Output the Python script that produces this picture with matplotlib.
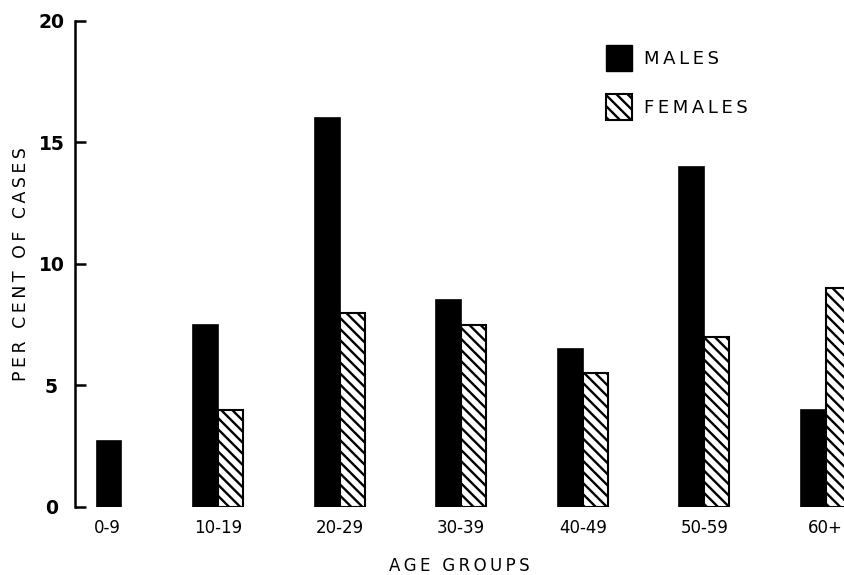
import numpy as np
import matplotlib
matplotlib.use("Agg")
import matplotlib.pyplot as plt
from matplotlib.patches import Patch

categories = ["0-9", "10-19", "20-29", "30-39", "40-49", "50-59", "60+"]
males = [2.7, 7.5, 16.0, 8.5, 6.5, 14.0, 4.0]
females = [0.0, 4.0, 8.0, 7.5, 5.5, 7.0, 9.0]
y_ticks = [0, 5, 10, 15, 20]
series_names = ["MALES", "FEMALES"]
x_title = "AGE GROUPS"
y_title = "PER CENT OF CASES"

plt.rcParams["font.family"] = ["DejaVu Sans"]
plt.rcParams["hatch.linewidth"] = 1.7


def spaced(s):
    return "\u2009".join(s)


fig = plt.figure(figsize=(8.44, 5.75), dpi=100)
ax = fig.add_axes([0.0889, 0.1183, 0.9111, 0.8452])

w = 0.205
hatch = "\\\\\\"
x = np.arange(len(categories), dtype=float)
tick_pos = []
for i in range(len(categories)):
    if females[i] > 0:
        ax.bar(x[i] - w / 2, males[i], width=w, color="black", edgecolor="black", linewidth=1.2)
        ax.bar(x[i] + w / 2, females[i], width=w, color="white", edgecolor="black",
               hatch=hatch, linewidth=1.5)
        tick_pos.append(x[i])
    else:
        ax.bar(x[i] + w / 2, males[i], width=w, color="black", edgecolor="black", linewidth=1.2)
        tick_pos.append(x[i] + w * 0.45)

ax.set_xlim(-0.177, 6.15)
ax.set_ylim(0, 20)
ax.set_yticks(y_ticks)
ax.set_yticklabels([str(t) for t in y_ticks], fontsize=13.5, fontweight="bold")
ax.tick_params(axis="y", direction="in", length=8, width=1.8, pad=17)
for lab in ax.get_yticklabels():
    lab.set_horizontalalignment("center")
ax.set_xticks(tick_pos)
ax.set_xticklabels(categories, fontsize=12)
ax.tick_params(axis="x", length=0, pad=9)

for s in ["top", "right", "bottom"]:
    ax.spines[s].set_visible(False)
ax.spines["left"].set_linewidth(1.8)

ax.set_ylabel(spaced(y_title), fontsize=12.5, labelpad=6)
ax.set_xlabel(spaced(x_title), fontsize=12, labelpad=14)

handles = [Patch(facecolor="black", edgecolor="black", label=spaced(series_names[0])),
           Patch(facecolor="white", edgecolor="black", hatch=hatch, linewidth=1.5,
                 label=spaced(series_names[1]))]
fig.legend(handles=handles, loc="upper left", bbox_to_anchor=(606 / 844, 1 - 45 / 575),
           bbox_transform=fig.transFigure, frameon=False, fontsize=13,
           handlelength=1.44, handleheight=1.8, labelspacing=1.3, handletextpad=0.67,
           borderpad=0, borderaxespad=0)

fig.savefig("out.png", dpi=100, facecolor="white")
